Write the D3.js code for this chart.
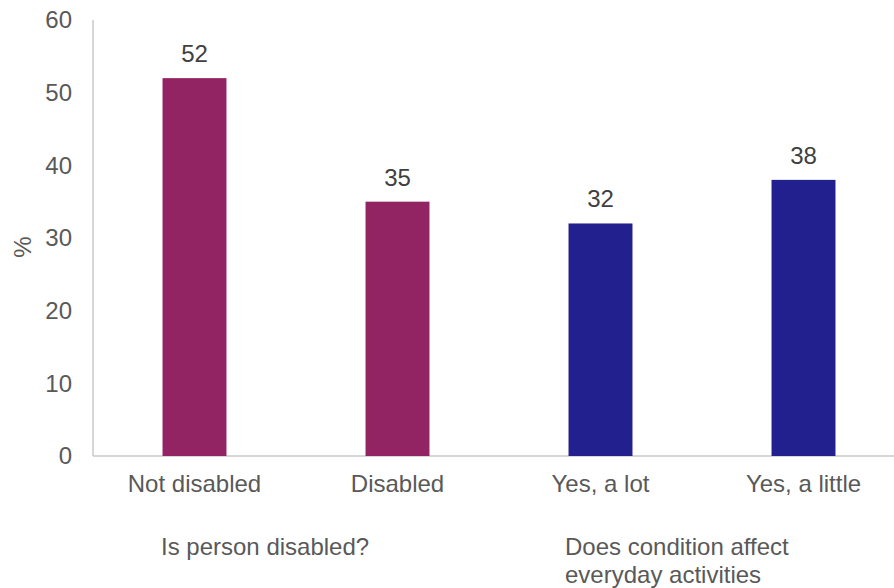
<!DOCTYPE html>
<html>
<head>
<meta charset="utf-8">
<script src="https://cdn.jsdelivr.net/npm/d3@7"></script>
<style>
  body { margin: 0; background: #fff; }
  text { font-family: "Liberation Sans", Arial, sans-serif; }
</style>
</head>
<body>
<svg width="894" height="588"></svg>
<script>
const categories = ["Not disabled", "Disabled", "Yes, a lot", "Yes, a little"];
const values = [52, 35, 32, 38];
const barColours = ["#922464", "#922464", "#221f8f", "#221f8f"];
const yTicks = [0, 10, 20, 30, 40, 50, 60];
const groupLabels = [
  { lines: ["Is person disabled?"], x: 161 },
  { lines: ["Does condition affect", "everyday activities"], x: 565 }
];

const svg = d3.select("svg");
const plotLeft = 93, plotRight = 905, plotTop = 20, plotBottom = 456;

let x = d3.scaleBand().domain(categories).range([plotLeft, plotRight]).padding(0);
let y = d3.scaleLinear().domain([0, 60]).range([plotBottom, plotTop]);
let barW = x.bandwidth() * 0.315;

// axis lines
svg.append("line")
  .attr("x1", plotLeft).attr("x2", plotLeft)
  .attr("y1", y(60)).attr("y2", y(0))
  .style("stroke", "#c9c9c9").style("stroke-width", 1.5);
svg.append("line")
  .attr("x1", plotLeft).attr("x2", 894)
  .attr("y1", y(0)).attr("y2", y(0))
  .style("stroke", "#c9c9c9").style("stroke-width", 1.5);

// y tick labels
svg.selectAll(".ytick")
  .data(yTicks)
  .enter().append("text")
  .attr("class", "ytick")
  .attr("x", 72)
  .attr("y", d => y(d))
  .attr("dy", "0.35em")
  .attr("text-anchor", "end")
  .attr("font-size", "24px")
  .attr("fill", "#595959")
  .text(d => d);

svg.append("text")
  .attr("transform", "translate(31,247) rotate(-90)")
  .attr("text-anchor", "middle")
  .attr("font-size", "24px")
  .attr("fill", "#595959")
  .text("%");

// bars
svg.selectAll(".bar")
  .data(values)
  .enter().append("rect")
  .attr("class", "bar")
  .attr("x", (d, i) => x(categories[i]) + x.bandwidth() / 2 - barW / 2)
  .attr("y", d => y(d))
  .attr("width", barW)
  .attr("height", d => y(0) - y(d))
  .style("fill", (d, i) => barColours[i]);

// value labels
svg.selectAll(".val")
  .data(values)
  .enter().append("text")
  .attr("class", "val")
  .attr("x", (d, i) => x(categories[i]) + x.bandwidth() / 2)
  .attr("y", d => y(d) - 16)
  .attr("text-anchor", "middle")
  .attr("font-size", "24px")
  .attr("fill", "#404040")
  .text(d => d);

// category labels
svg.selectAll(".cat")
  .data(categories)
  .enter().append("text")
  .attr("class", "cat")
  .attr("x", d => x(d) + x.bandwidth() / 2)
  .attr("y", 492)
  .attr("text-anchor", "middle")
  .attr("font-size", "24px")
  .attr("fill", "#595959")
  .text(d => d);

// group labels
groupLabels.forEach(g => {
  g.lines.forEach((line, j) => {
    svg.append("text")
      .attr("x", g.x)
      .attr("y", 555 + j * 28)
      .attr("font-size", "24px")
      .attr("fill", "#595959")
      .text(line);
  });
});
</script>
</body>
</html>
